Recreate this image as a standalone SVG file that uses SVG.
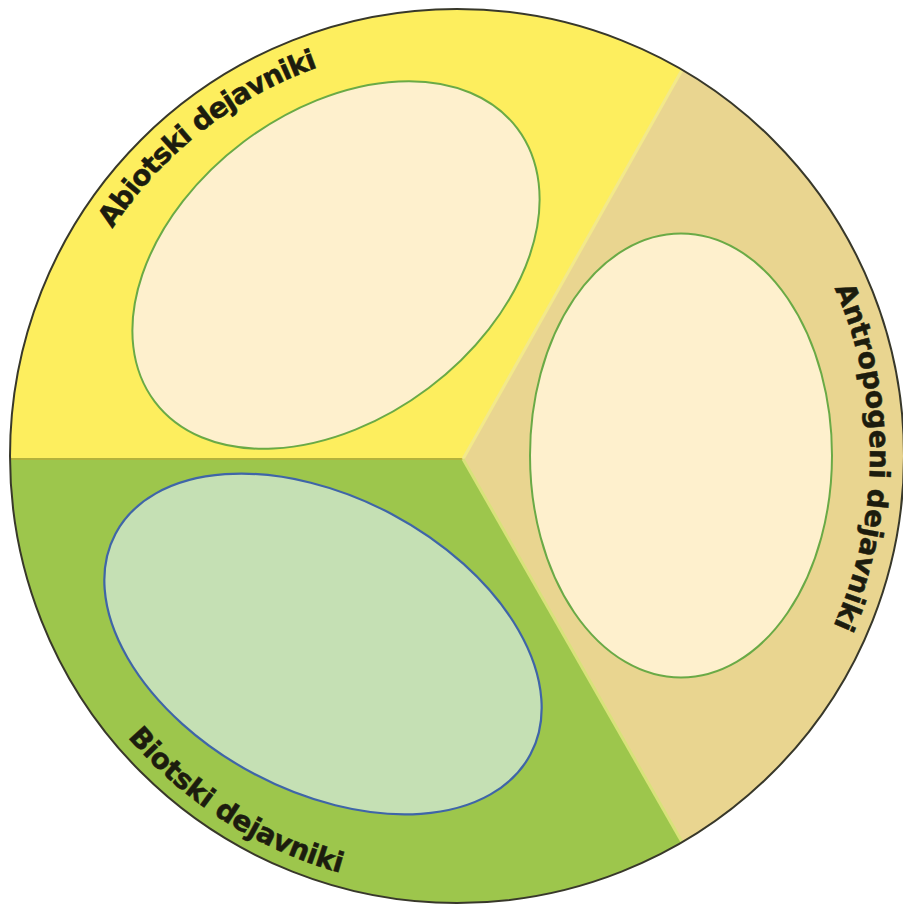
<svg xmlns="http://www.w3.org/2000/svg" xmlns:xlink="http://www.w3.org/1999/xlink" width="903" height="908" viewBox="0 0 903 908">
<style>
.lbl{font-family:"DejaVu Sans","Liberation Sans",sans-serif;font-weight:bold;font-size:28px;fill:#1c1c0e;stroke:#1c1c0e;stroke-width:0.5}
.cream{fill:#fef0cd;stroke:#6aaa46;stroke-width:2}
.mint{fill:#c5e0b4;stroke:#3f65a8;stroke-width:2.2}
</style>
<defs>
<path id="pTop" d="M112.4,228.7 A413,413 0 0 1 319.3,66.8"/>
<path id="pRight" d="M834.3,288.1 A413,413 0 0 1 832.8,627.0"/>
<path id="pBottom" d="M127.7,737.2 A433,433 0 0 0 341.3,873.2"/>
</defs>
<rect width="903" height="908" fill="#ffffff"/>
<g id="sectors">
<path id="sector-abiotic" d="M463,459 L10,459 A447,447 0 0 1 682,70 Z" fill="#fdee5e"/>
<path id="sector-anthropogenic" d="M463,459 L682,70 A447,447 0 0 1 682,842 Z" fill="#e9d590"/>
<path id="sector-biotic" d="M463,459 L682,842 A447,447 0 0 1 10,459 Z" fill="#9dc64c"/>
<line x1="10" y1="459" x2="463" y2="459" stroke="#b3b23c" stroke-width="2"/>
<line x1="463" y1="459" x2="682" y2="70" stroke="#f3e98a" stroke-width="3"/>
<line x1="463" y1="459" x2="682" y2="842" stroke="#d8e27a" stroke-width="3"/>
<circle cx="457" cy="456" r="447" fill="none" stroke="#38382a" stroke-width="2"/>
</g>
<g id="connectors"></g>
<g id="node-abiotic">
<ellipse class="cream" cx="336" cy="265" rx="227" ry="154" transform="rotate(-37 336 265)"/>
</g>
<g id="node-anthropogenic">
<ellipse class="cream" cx="681" cy="455.5" rx="151" ry="222"/>
</g>
<g id="node-biotic">
<ellipse class="mint" cx="323" cy="644" rx="235" ry="147" transform="rotate(28 323 644)"/>
</g>
<g id="labels">
<text class="lbl"><textPath xlink:href="#pTop" href="#pTop" textLength="266" lengthAdjust="spacing">Abiotski dejavniki</textPath></text>
<text class="lbl"><textPath xlink:href="#pRight" href="#pRight" textLength="348" lengthAdjust="spacing">Antropogeni dejavniki</textPath></text>
<text class="lbl"><textPath xlink:href="#pBottom" href="#pBottom" textLength="256" lengthAdjust="spacing">Biotski dejavniki</textPath></text>
</g>
</svg>
